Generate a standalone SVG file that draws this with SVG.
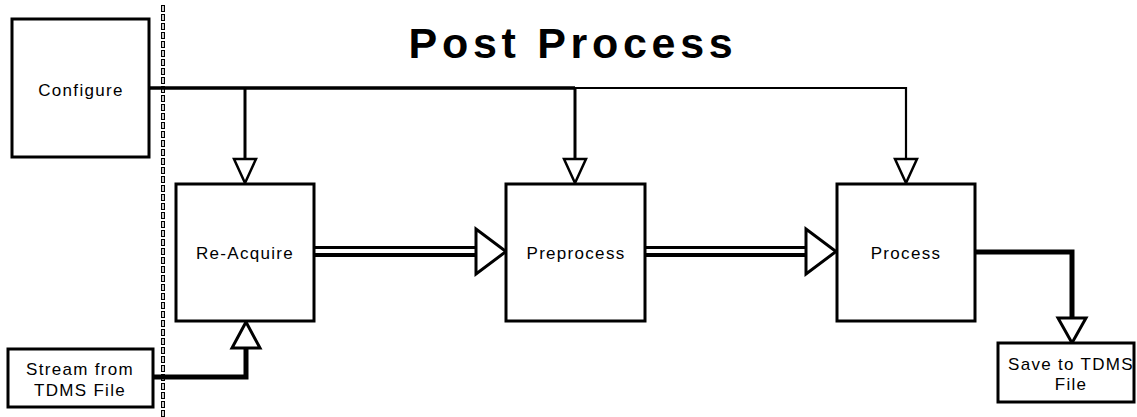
<svg xmlns="http://www.w3.org/2000/svg" width="1137" height="417" viewBox="0 0 1137 417">
<style>
.box{fill:#fff;stroke:#000;stroke-width:3}
.lbl{font-family:"Liberation Sans",Arial,sans-serif;font-size:17px;letter-spacing:1.3px;text-anchor:middle;fill:#000}
.title{font-family:"Liberation Sans",Arial,sans-serif;font-size:43px;font-weight:bold;letter-spacing:4.7px;text-anchor:middle;fill:#000}
.wire{fill:none;stroke:#000;stroke-linejoin:miter;stroke-linecap:butt}
.gap{fill:none;stroke:#fff;stroke-width:4;stroke-linecap:butt}
.head{fill:#fff;stroke:#000;stroke-width:3;stroke-linejoin:miter}
.headS{fill:#fff;stroke:#000;stroke-width:2.5;stroke-linejoin:miter}
</style>
<rect width="1137" height="417" fill="#fff"/>
<g id="separator">
<line x1="163" y1="5" x2="163" y2="417" stroke="#000" stroke-width="4" stroke-dasharray="7 2"/>
<line x1="163" y1="5" x2="163" y2="417" stroke="#fff" stroke-width="1.6" stroke-dasharray="5 4" stroke-dashoffset="-1"/>
</g>
<text id="title" class="title" x="573" y="58">Post Process</text>
<g id="connectors">
<path class="wire" d="M149 88H575" stroke-width="3.5"/>
<path class="wire" d="M575 88H906V160" stroke-width="2.2"/>
<path class="wire" d="M245 88V160" stroke-width="3"/>
<path class="wire" d="M575 88V160" stroke-width="3"/>
<polygon class="headS" points="234,159 256,159 245,183"/>
<polygon class="headS" points="564,159 586,159 575,183"/>
<polygon class="headS" points="895,159 917,159 906,183"/>
<path class="wire" d="M314 251.5H477" stroke-width="11"/>
<path class="gap" d="M314 251H477"/>
<polygon class="head" points="476,229 476,274 506,251.5"/>
<path class="wire" d="M645 251.5H807" stroke-width="11"/>
<path class="gap" d="M645 251H807"/>
<polygon class="head" points="806,229 806,274 836,251.5"/>
<path class="wire" d="M975 252H1072V318" stroke-width="5"/>
<polygon class="head" points="1058,318 1086,318 1072,343"/>
<path class="wire" d="M153 377H246V347" stroke-width="5"/>
<polygon class="head" points="232,348 260,348 246,322"/>
</g>
<g id="configure">
<rect class="box" x="12" y="19" width="137" height="138"/>
<text class="lbl" x="81" y="96">Configure</text>
</g>
<g id="reacquire">
<rect class="box" x="176" y="184" width="138" height="137"/>
<text class="lbl" x="245" y="259">Re-Acquire</text>
</g>
<g id="preprocess">
<rect class="box" x="506" y="184" width="139" height="137"/>
<text class="lbl" x="576" y="259">Preprocess</text>
</g>
<g id="process">
<rect class="box" x="837" y="184" width="138" height="137"/>
<text class="lbl" x="906" y="259">Process</text>
</g>
<g id="stream">
<rect class="box" x="8" y="349" width="145" height="58"/>
<text class="lbl" x="80" y="375">Stream from</text>
<text class="lbl" x="80" y="396">TDMS File</text>
</g>
<g id="save">
<rect class="box" x="998" y="343" width="136" height="59"/>
<text class="lbl" x="1071" y="370">Save to TDMS</text>
<text class="lbl" x="1071" y="390">File</text>
</g>
</svg>
